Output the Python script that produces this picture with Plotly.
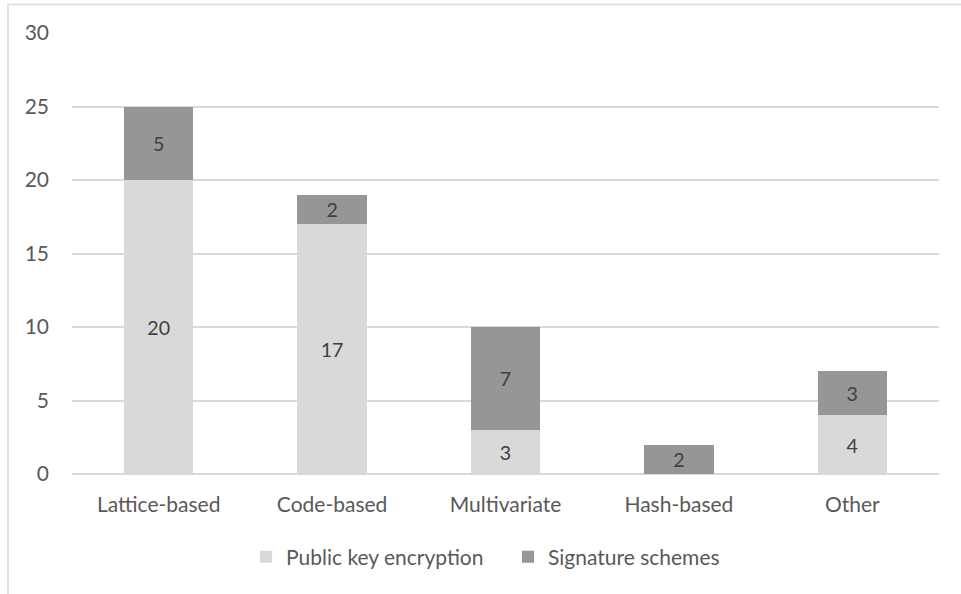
import plotly.graph_objects as go

categories = ["Lattice-based", "Code-based", "Multivariate", "Hash-based", "Other"]
public_key = [20, 17, 3, 0, 4]
signature = [5, 2, 7, 2, 3]
y_ticks = [0, 5, 10, 15, 20, 25, 30]

FONT = "Lato"
FS = 21
TXT = "#595959"
L, R, T, B = 72, 22, 33, 120
W, H = 961, 594
pw = W - L - R
ph = H - T - B

def labels(vals):
    return [str(v) if v else "" for v in vals]

fig = go.Figure()
fig.add_trace(go.Bar(
    x=categories, y=public_key, name="Public key encryption",
    marker=dict(color="#d9d9d9", line=dict(width=0)),
    text=labels(public_key), textposition="inside", insidetextanchor="middle",
    textfont=dict(family=FONT, size=FS, color="#404040"), textangle=0,
))
fig.add_trace(go.Bar(
    x=categories, y=signature, name="Signature schemes",
    marker=dict(color="#969696", line=dict(width=0)),
    text=labels(signature), textposition="inside", insidetextanchor="middle",
    textfont=dict(family=FONT, size=FS, color="#404040"), textangle=0,
))

fig.update_layout(
    barmode="stack", bargap=0.6,
    width=W, height=H,
    margin=dict(l=L, r=R, t=T, b=B, autoexpand=False),
    paper_bgcolor="white", plot_bgcolor="white",
    font=dict(family=FONT, size=FS, color=TXT),
    uniformtext=dict(minsize=10, mode="show"),
    legend=dict(orientation="h", x=(246 - L) / pw, xanchor="left",
                y=(H - B - 557) / ph, yanchor="middle",
                font=dict(family=FONT, size=FS, color=TXT),
                itemwidth=30, traceorder="normal",
                entrywidth=217, entrywidthmode="pixels"),
    xaxis=dict(showgrid=False, showline=False, ticks="", ticklabelstandoff=16,
               tickfont=dict(family=FONT, size=FS, color=TXT)),
    yaxis=dict(range=[0, 30], tickvals=y_ticks, showgrid=True, gridcolor="#d9d9d9",
               gridwidth=1.5, zeroline=True, zerolinecolor="#d9d9d9", zerolinewidth=1.5,
               showline=False, ticks="", ticklabelstandoff=22,
               tickfont=dict(family=FONT, size=FS, color=TXT)),
    shapes=[
        dict(type="line", xref="paper", yref="paper",
             x0=(8 - L) / pw, x1=(W + 10 - L) / pw,
             y0=(H - B - 4.5) / ph, y1=(H - B - 4.5) / ph,
             line=dict(color="#d9d9d9", width=1.5)),
        dict(type="line", xref="paper", yref="paper",
             x0=(8 - L) / pw, x1=(8 - L) / pw,
             y0=(H - B - 4.5) / ph, y1=(H - B - H - 10) / ph,
             line=dict(color="#d9d9d9", width=1.5)),
    ],
)

fig.write_html("out.html")
